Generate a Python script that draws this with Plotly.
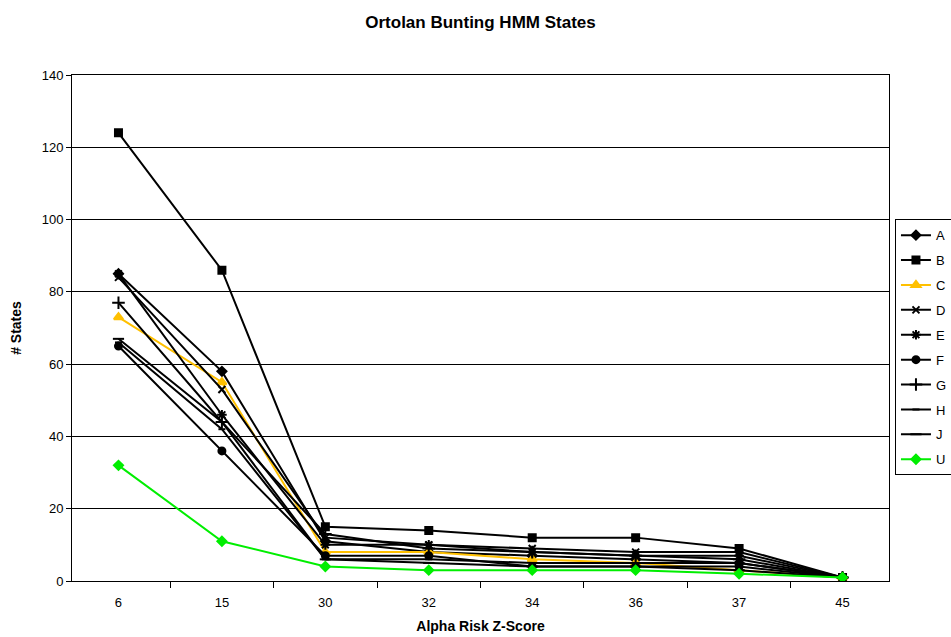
import plotly.graph_objects as go

categories = ["6", "15", "30", "32", "34", "36", "37", "45"]
series_names = ["A", "B", "C", "D", "E", "F", "G", "H", "J", "U"]
A = [85, 58, 11, 8, 7, 6, 5, 1]
B = [124, 86, 15, 14, 12, 12, 9, 1]
C = [73, 55, 8, 8, 6, 5, 3, 1]
D = [84, 53, 12, 10, 9, 8, 8, 1]
E = [85, 46, 10, 10, 8, 7, 7, 1]
F = [65, 36, 7, 7, 4, 4, 4, 1]
G = [77, 44, 13, 9, 8, 7, 6, 1]
H = [66, 42, 6, 6, 5, 5, 5, 1]
J = [67, 44, 6, 5, 4, 4, 3, 1]
U = [32, 11, 4, 3, 3, 3, 2, 1]
values = [A, B, C, D, E, F, G, H, J, U]

styles = {
    "A": dict(color="black", symbol="diamond", size=7),
    "B": dict(color="black", symbol="square", size=7),
    "C": dict(color="#FFC000", symbol="triangle-up", size=8),
    "D": dict(color="black", symbol="x-thin-open", size=7),
    "E": dict(color="black", symbol="asterisk-open", size=8),
    "F": dict(color="black", symbol="circle", size=7),
    "G": dict(color="black", symbol="cross-thin-open", size=9),
    "H": dict(color="black", symbol="line-ew-open", size=5),
    "J": dict(color="black", symbol="line-ew-open", size=8),
    "U": dict(color="#00EE00", symbol="diamond", size=7),
}

fig = go.Figure()
for name, vals in zip(series_names, values):
    s = styles[name]
    fig.add_trace(go.Scatter(
        x=categories, y=vals, name=name, mode="lines+markers",
        legendgroup=name,
        line=dict(color=s["color"], width=2),
        marker=dict(symbol=s["symbol"], size=s["size"], color=s["color"],
                    line=dict(color=s["color"], width=2)),
    ))

font = "Arial, Liberation Sans, sans-serif"
fig.update_layout(
    width=951, height=637,
    margin=dict(l=72, r=62, t=75, b=56, autoexpand=False),
    paper_bgcolor="white", plot_bgcolor="white",
    font=dict(family=font, size=13, color="black"),
    title=dict(text="<b>Ortolan Bunting HMM States</b>", x=0.5, xref="paper",
               y=0.965, yanchor="middle", font=dict(size=17)),
    showlegend=True,
    legend=dict(x=1.0073, y=0.715, xanchor="left", yanchor="top",
                bordercolor="black", borderwidth=1, tracegroupgap=5,
                font=dict(size=13), bgcolor="white", itemwidth=30),
    xaxis=dict(type="category", tickson="boundaries", ticks="outside",
               ticklen=6, tickcolor="black", showline=True, linecolor="black",
               linewidth=1, mirror=True, showgrid=False, ticklabelstandoff=9,
               title=dict(text="<b>Alpha Risk Z-Score</b>", font=dict(size=14), standoff=12)),
    yaxis=dict(range=[0, 140], dtick=20, ticks="outside", ticklen=5,
               tickcolor="black", showline=True, linecolor="black",
               linewidth=1, mirror=True, showgrid=True, gridcolor="black",
               gridwidth=1, zeroline=False,
               title=dict(text="<b># States</b>", font=dict(size=14), standoff=16)),
)

fig.write_html("out.html")
